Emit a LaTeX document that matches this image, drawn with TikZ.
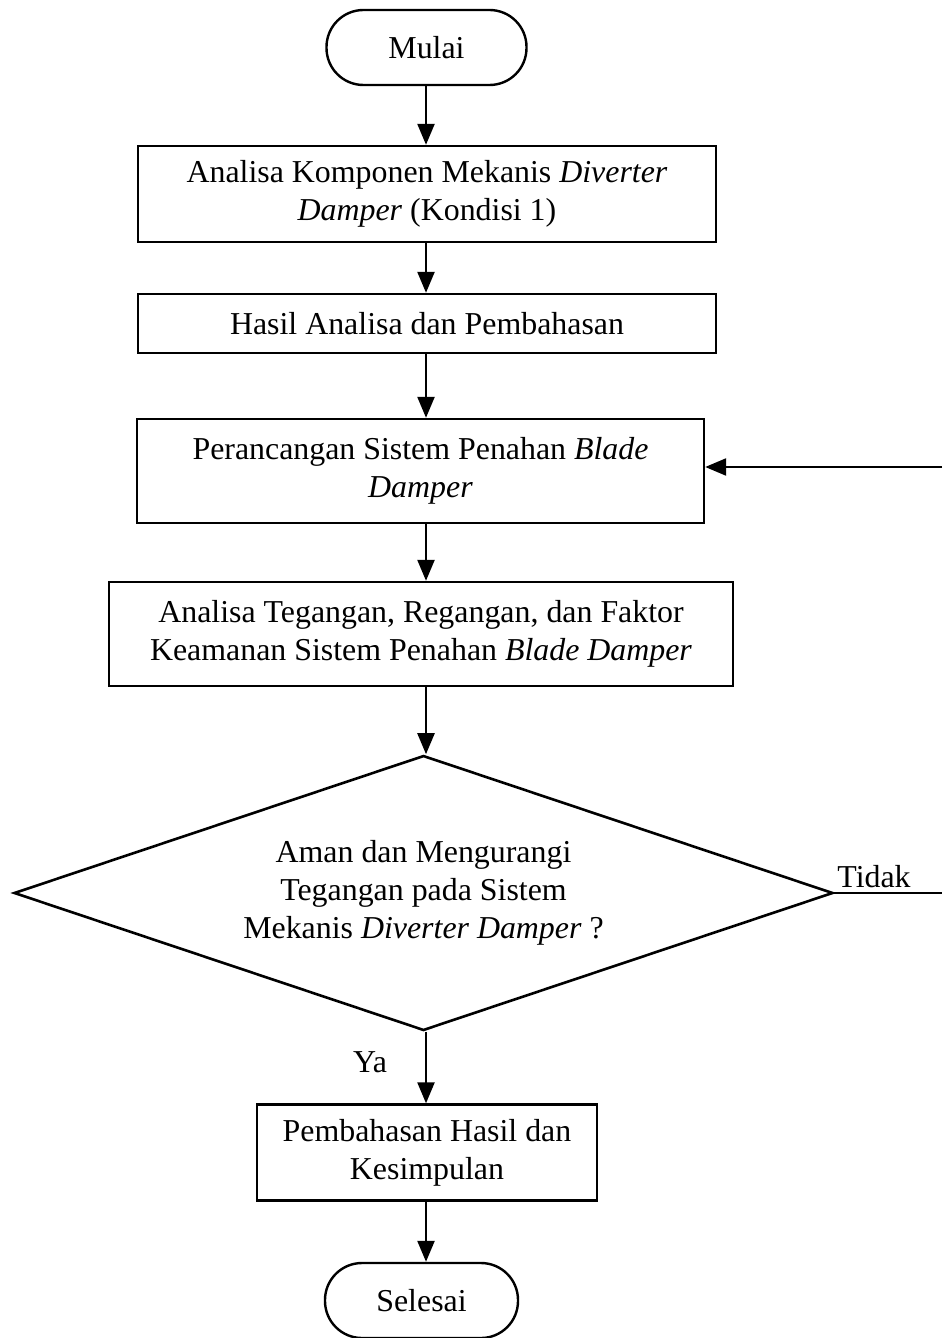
\documentclass[tikz,border=0pt]{standalone}
\usepackage{fontspec}
\setmainfont{Liberation Serif}
\usetikzlibrary{arrows.meta,shapes.geometric}

\begin{document}
\begin{tikzpicture}[x=1bp,y=-1bp,
  every node/.style={font=\fontsize{32}{38}\selectfont},
  proc/.style={draw,line width=2.4bp,inner sep=0pt,align=center},
  term/.style={draw,line width=2.4bp,inner sep=0pt,rounded corners=37bp,minimum height=75bp},
  decide/.style={draw,line width=2.6bp,shape=diamond,aspect=2.98,inner sep=0pt,
                 minimum width=819bp,minimum height=275bp,align=center},
  flow/.style={line width=2.4bp,-{Triangle[width=17bp,length=21bp]}},
  lbl/.style={inner sep=0pt}
]
\useasboundingbox (0,0) rectangle (942,1338);
\clip (0,0) rectangle (942,1338);

% vertical axis of the main flow
\coordinate (spine) at (426,0);

% terminals and process boxes
\node[term,minimum width=200bp] (mulai) at (426.5,47.5) {Mulai};
\node[proc,minimum width=578bp,minimum height=96bp] (b1) at (427,194)
  {Analisa Komponen Mekanis \textit{Diverter}\\\textit{Damper} (Kondisi 1)};
\node[proc,minimum width=578bp,minimum height=59bp] (b2) at (427,323.5)
  {Hasil Analisa dan Pembahasan};
\node[proc,minimum width=567bp,minimum height=104bp] (b3) at (420.5,471)
  {Perancangan Sistem Penahan \textit{Blade}\\\textit{Damper}};
\node[proc,minimum width=624bp,minimum height=104bp] (b4) at (421,634)
  {Analisa Tegangan, Regangan, dan Faktor\\Keamanan Sistem Penahan \textit{Blade Damper}};
\node[decide] (d) at (423.5,893)
  {Aman dan Mengurangi\\Tegangan pada Sistem\\Mekanis \textit{Diverter Damper} ?};
\node[proc,minimum width=340bp,minimum height=96bp] (b5) at (427,1152.5)
  {Pembahasan Hasil dan\\Kesimpulan};
\node[term,minimum width=193bp] (selesai) at (421.5,1300.5) {Selesai};

% branch labels
\node[lbl] (tidak) at (874,877) {Tidak};
\node[lbl] (ya) at (370,1062) {Ya};

% loose ends of the "Tidak" return path
\coordinate (tidakEnd) at (942,893);
\coordinate (backIn) at (942,467);

% main flow
\draw[flow] (mulai.south -| spine) -- (b1.north -| spine);
\draw[flow] (b1.south -| spine) -- (b2.north -| spine);
\draw[flow] (b2.south -| spine) -- (b3.north -| spine);
\draw[flow] (b3.south -| spine) -- (b4.north -| spine);
\draw[flow] (b4.south -| spine) -- (d.north -| spine);
\draw[flow] (d.south -| spine) -- (b5.north -| spine);
\draw[flow] (b5.south -| spine) -- (selesai.north -| spine);

% return path
\draw[line width=1.3bp] (d.east) -- (tidakEnd);
\draw[flow] (backIn) -- (b3.east |- backIn);
\end{tikzpicture}
\end{document}
